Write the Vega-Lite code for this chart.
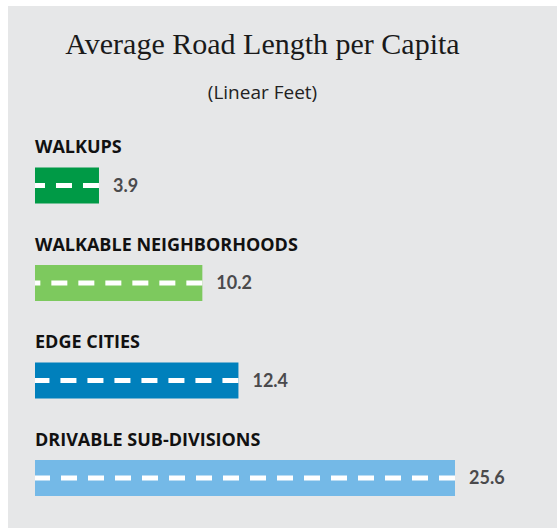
{
  "$schema": "https://vega.github.io/schema/vega-lite/v6.json",
  "width": 549,
  "height": 522,
  "autosize": {"type": "none"},
  "padding": {"left": 8, "top": 6, "right": 1, "bottom": 1},
  "background": "#ffffff",
  "config": {"view": {"fill": "#e6e7e8", "stroke": null}},
  "title": {
    "text": "Average Road Length per Capita",
    "subtitle": "(Linear Feet)",
    "anchor": "middle",
    "frame": "group",
    "dx": -20,
    "offset": -97,
    "font": "Liberation Serif",
    "fontSize": 30,
    "fontWeight": "normal",
    "color": "#1a1a1a",
    "subtitleFont": "Open Sans",
    "subtitleFontSize": 19,
    "subtitleColor": "#222222",
    "subtitlePadding": 24
  },
  "data": {
    "values": [
      {"category": "WALKUPS", "value": 3.9},
      {"category": "WALKABLE NEIGHBORHOODS", "value": 10.2},
      {"category": "EDGE CITIES", "value": 12.4},
      {"category": "DRIVABLE SUB-DIVISIONS", "value": 25.6}
    ]
  },
  "encoding": {
    "y": {
      "field": "category",
      "type": "nominal",
      "sort": null,
      "scale": {
        "domain": ["WALKUPS", "WALKABLE NEIGHBORHOODS", "EDGE CITIES", "DRIVABLE SUB-DIVISIONS"],
        "range": [130.75, 520.75],
        "paddingInner": 0,
        "paddingOuter": 0
      },
      "axis": null
    }
  },
  "layer": [
    {
      "mark": {"type": "bar", "height": {"band": 0.37}},
      "encoding": {
        "x": {"field": "value", "type": "quantitative", "scale": {"domain": [0, 25.6], "range": [27, 447], "nice": false}, "axis": null},
        "color": {
          "field": "category",
          "type": "nominal",
          "scale": {
            "domain": ["WALKUPS", "WALKABLE NEIGHBORHOODS", "EDGE CITIES", "DRIVABLE SUB-DIVISIONS"],
            "range": ["#009a46", "#7dc95e", "#0080bc", "#74b9e7"]
          },
          "legend": null
        }
      }
    },
    {
      "mark": {"type": "rule", "color": "#ffffff", "strokeWidth": 5, "strokeDash": [16, 11], "strokeCap": "butt"},
      "encoding": {
        "x": {"field": "value", "type": "quantitative"},
        "x2": {"datum": 0}
      }
    },
    {
      "mark": {"type": "text", "align": "left", "baseline": "alphabetic", "dy": -32.5, "font": "Open Sans", "fontWeight": "bold", "fontSize": 18, "color": "#111111"},
      "encoding": {
        "x": {"datum": 0, "type": "quantitative"},
        "text": {"field": "category", "type": "nominal"}
      }
    },
    {
      "mark": {"type": "text", "align": "left", "baseline": "middle", "dx": 14, "dy": 1, "font": "Lato", "fontWeight": "bold", "fontSize": 18, "color": "#4a4a4c"},
      "encoding": {
        "x": {"field": "value", "type": "quantitative"},
        "text": {"field": "value", "type": "quantitative", "format": ".1f"}
      }
    }
  ]
}
